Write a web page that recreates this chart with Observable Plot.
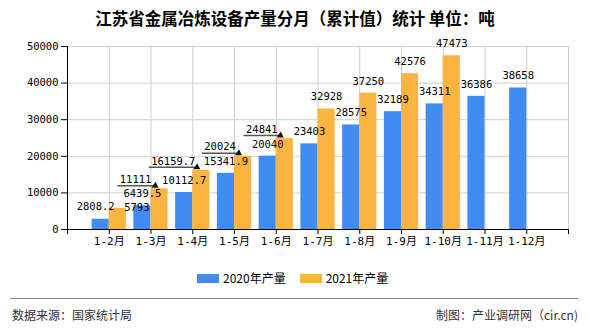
<!DOCTYPE html>
<html><head><meta charset="utf-8">
<script src="https://cdn.jsdelivr.net/npm/d3@7"></script>
<script src="https://cdn.jsdelivr.net/npm/@observablehq/plot@0.6"></script>
<style>
html,body{margin:0;padding:0;background:#fff;}
#wrap{position:relative;width:590px;height:330px;overflow:hidden;font-family:"Noto Sans CJK SC",sans-serif;background:#fff;}
#chart{position:absolute;left:0;top:0;}
#title{position:absolute;left:0;top:7px;width:590px;text-align:center;font-size:16.5px;font-weight:bold;line-height:22px;color:#000;}
#legend{position:absolute;left:197px;top:270px;display:flex;align-items:center;font-size:12px;line-height:16px;color:#000;}
#legend .item{display:flex;align-items:center;margin-right:14px;}
#legend .sw{width:22px;height:9px;margin-right:4px;}
#rule{position:absolute;left:10px;top:298px;width:568px;height:1px;background:#888;}
#src{position:absolute;left:12px;top:307px;font-size:12px;line-height:16px;color:#333;}
#by{position:absolute;right:12px;top:307px;font-size:12px;line-height:16px;color:#333;}
</style>
</head>
<body>
<div id="wrap">
  <div id="chart"></div>
  <div id="title"></div>
  <div id="legend"></div>
  <div id="rule"></div>
  <div id="src"></div>
  <div id="by"></div>
</div>
<script>
// ---- data ----
const titleText = "江苏省金属冶炼设备产量分月（累计值）统计 单位：吨";
const sourceText = "数据来源：国家统计局";
const creditText = "制图：产业调研网（cir.cn)";
const months = ["1-2月","1-3月","1-4月","1-5月","1-6月","1-7月","1-8月","1-9月","1-10月","1-11月","1-12月"];
const prod2020 = [2808.2, 6439.5, 10112.7, 15341.9, 20040, 23403, 28575, 32189, 34311, 36386, 38658];
const prod2021 = [5793, 11111, 16159.7, 20024, 24841, 32928, 37250, 42576, 47473, null, null];
const seriesNames = ["2020年产量", "2021年产量"];
const seriesColors = ["#418CF0", "#FCB441"];
const yTicks = [0, 10000, 20000, 30000, 40000, 50000];

// ---- layout config (label nudges, in pixels) ----
const NUM_FONT = '"DejaVu Sans Mono", "Noto Sans CJK SC", monospace';
const NUM_SIZE = 10.5;
const nudges = {
  "0|1-2月": {dx: -5, dy: -13},
  "1|1-2月": {dx: 19, dy: -1},
  "1|1-3月": {dx: -24, dy: -9, leader: true},
  "1|1-4月": {dx: -28, dy: -9, leader: true},
  "1|1-5月": {dx: -23, dy: -10, leader: true},
  "1|1-6月": {dx: -23, dy: -9, leader: true}
};

const slot = i => i + 2;           // slots 1 and 13 are the empty edges of the axis
const half = 0.41;                 // bar width in slot units
const xTicks = d3.range(1, months.length + 3);

const rows = [];
[prod2020, prod2021].forEach((arr, s) => arr.forEach((v, i) => {
  if (v != null) rows.push({i, s, month: months[i], series: seriesNames[s], v, key: s + "|" + months[i]});
}));
const labelX = d => slot(d.i) + (d.s === 0 ? -half / 2 : half / 2);

const textOpts = {x: labelX, y: "v", text: d => String(d.v), fontSize: NUM_SIZE, fill: "#000"};
const nudgeMarks = rows.filter(d => nudges[d.key]).map(d =>
  Plot.text([d], {...textOpts, dx: nudges[d.key].dx, dy: nudges[d.key].dy}));

const plot = Plot.plot({
  width: 590, height: 330,
  marginTop: 46, marginBottom: 101, marginLeft: 67, marginRight: 22,
  style: {fontFamily: NUM_FONT, fontSize: "11px", color: "#000", background: "transparent"},
  x: {type: "linear", domain: [1, months.length + 2]},
  y: {domain: [0, 50000]},
  color: {domain: seriesNames, range: seriesColors},
  marks: [
    Plot.gridX(xTicks, {stroke: "#cfcfcf", strokeOpacity: 1}),
    Plot.gridY(yTicks, {stroke: "#cfcfcf", strokeOpacity: 1}),
    Plot.rect(rows, {
      x1: d => d.s === 0 ? slot(d.i) - half : slot(d.i),
      x2: d => d.s === 0 ? slot(d.i) : slot(d.i) + half,
      y1: 0, y2: "v", fill: "series"
    }),
    Plot.ruleY([0], {stroke: "#000"}),
    Plot.ruleX([1], {stroke: "#000"}),
    Plot.axisX(xTicks, {label: null, tickSize: 5, tickPadding: 3, fontSize: 11,
      tickFormat: d => months[d - 2] ?? ""}),
    Plot.axisY(yTicks, {label: null, tickSize: 6, tickPadding: 3, fontSize: NUM_SIZE,
      tickFormat: d => String(d)}),
    Plot.text(rows.filter(d => !nudges[d.key]), {...textOpts, dy: -12}),
    ...nudgeMarks
  ]
});
document.getElementById("chart").appendChild(plot);

// leader lines with arrowheads for displaced labels, positioned through the plot's scales
const sx = plot.scale("x"), sy = plot.scale("y");
const g = d3.select(plot).append("g");
rows.filter(d => nudges[d.key] && nudges[d.key].leader).forEach(d => {
  const n = nudges[d.key];
  const cx = sx.apply(labelX(d)) + n.dx;
  const w = String(d.v).length * NUM_SIZE * 0.602;
  const barLeft = sx.apply(d.s === 0 ? slot(d.i) - half : slot(d.i));
  const yl = sy.apply(d.v) - 2.5;
  const xs = cx - w / 2 - 2, xe = barLeft + 4;
  g.append("line").attr("x1", xs).attr("x2", xe).attr("y1", yl).attr("y2", yl)
    .attr("stroke", "#555").attr("stroke-width", 1.5);
  g.append("path").attr("d", `M${xe - 3},${yl + 2}L${xe + 4},${yl + 2}L${xe + 1},${yl - 4}Z`).attr("fill", "#111");
});

// title, legend, footer
document.getElementById("title").textContent = titleText;
document.getElementById("src").textContent = sourceText;
document.getElementById("by").textContent = creditText;
const legend = document.getElementById("legend");
seriesNames.forEach((name, k) => {
  const item = document.createElement("div");
  item.className = "item";
  const sw = document.createElement("div");
  sw.className = "sw";
  sw.style.background = seriesColors[k];
  const t = document.createElement("span");
  t.textContent = name;
  item.appendChild(sw); item.appendChild(t);
  legend.appendChild(item);
});
</script>
</body></html>
